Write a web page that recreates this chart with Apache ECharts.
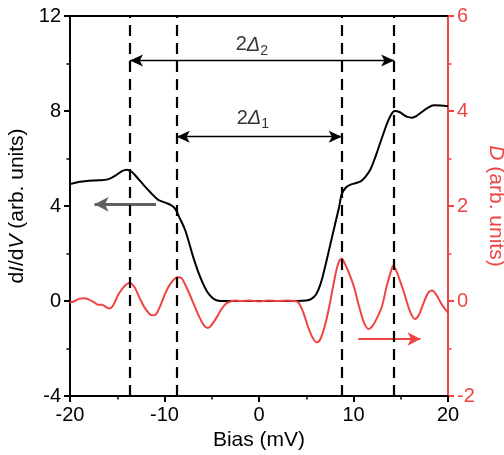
<!DOCTYPE html>
<html>
<head>
<meta charset="utf-8">
<script src="https://cdn.jsdelivr.net/npm/echarts@6/dist/echarts.min.js"></script>
<style>
  html, body { margin: 0; padding: 0; background: #fff; overflow: hidden; }
  #chart { width: 504px; height: 455px; display: block; }
</style>
</head>
<body>
<div id="chart"></div>
<script>
// Tunneling conductance dI/dV (left axis) and its derivative-like D (right axis) vs bias
const biasCond = [-20, -19, -18, -17, -16, -15.2, -14.5, -14.0, -13.5, -12.9, -12.2, -11.5, -10.7, -10.0, -9.4, -8.9, -8.4, -7.8, -7.0, -6.5, -6.0, -5.5, -5.0, -4.5, -4.0, -2, 0, 2, 4, 5.0, 5.5, 6.0, 6.5, 7.0, 7.5, 8.0, 8.5, 8.75, 9.2, 9.7, 10.3, 10.8, 11.3, 11.8, 12.3, 12.8, 13.3, 13.7, 14.1, 14.4, 14.8, 15.2, 15.7, 16.2, 16.7, 17.2, 17.8, 18.5, 19.2, 20];
const condValues = [4.92, 5.02, 5.06, 5.08, 5.12, 5.28, 5.47, 5.53, 5.45, 5.2, 4.88, 4.58, 4.27, 4.15, 4.06, 3.9, 3.5, 2.97, 1.9, 1.3, 0.8, 0.4, 0.16, 0.03, 0.0, 0.0, 0.0, 0.0, 0.0, 0.02, 0.08, 0.25, 0.7, 1.45, 2.3, 3.15, 4.0, 4.5, 4.78, 4.9, 4.97, 5.05, 5.25, 5.55, 6.05, 6.63, 7.2, 7.62, 7.92, 8.0, 7.97, 7.87, 7.75, 7.72, 7.8, 7.95, 8.12, 8.24, 8.23, 8.2];

const biasD = [-20, -19.5, -19, -18.5, -18.0, -17.5, -17.0, -16.6, -16.2, -15.8, -15.4, -14.9, -14.3, -13.7, -13.2, -12.6, -12.0, -11.3, -10.9, -10.4, -9.9, -9.3, -8.6, -8.2, -7.7, -7.0, -6.4, -5.8, -5.4, -5.0, -4.5, -4.0, -3.5, -3.0, -2.5, -2, -1, 0, 1, 2, 3, 3.8, 4.2, 4.7, 5.2, 5.7, 6.1, 6.5, 7.0, 7.5, 8.0, 8.4, 8.75, 9.1, 9.6, 10.0, 10.6, 11.1, 11.6, 12.0, 12.5, 13.0, 13.5, 14.0, 14.2, 14.5, 15.0, 15.5, 16.0, 16.5, 16.9, 17.4, 17.9, 18.3, 18.8, 19.3, 20];
const dValues = [-0.03, 0.0, 0.05, 0.06, 0.03, -0.02, -0.08, -0.08, -0.13, -0.16, -0.08, 0.13, 0.3, 0.38, 0.3, 0.05, -0.17, -0.3, -0.28, -0.08, 0.17, 0.38, 0.5, 0.48, 0.3, -0.02, -0.3, -0.52, -0.57, -0.5, -0.35, -0.18, -0.06, -0.01, 0.01, 0.0, 0.01, -0.01, 0.01, 0.0, 0.01, 0.0, -0.04, -0.25, -0.55, -0.78, -0.87, -0.8, -0.5, -0.05, 0.47, 0.8, 0.89, 0.78, 0.55, 0.33, -0.12, -0.45, -0.59, -0.53, -0.35, -0.12, 0.3, 0.65, 0.74, 0.65, 0.38, 0.08, -0.23, -0.38, -0.3, -0.05, 0.17, 0.22, 0.12, -0.06, -0.25];

// Gap edges (mV) marked by dashed lines
const gapEdges = [-13.65, -8.7, 8.75, 14.3];
// Double arrows spanning 2Δ2 and 2Δ1: [from, to, level on dI/dV axis]
const gapSpans = [[-13.65, 14.3, 10.13], [-8.7, 8.75, 6.92]];
// Span labels: [bias, dI/dV level, subscript]
const gapLabels = [[-0.75, 10.78, '2'], [-0.65, 7.7, '1']];
// Axis-pointer arrows: [from, to, level]
const condArrow = [-10.9, -17.4, 4.07];
const dArrow = [10.5, 17.1, -0.8];

const xTicks = { min: -20, max: 20, interval: 10 };
const leftTicks = { min: -4, max: 12, interval: 4 };
const rightTicks = { min: -2, max: 6, interval: 2 };

const RED = '#f04444';
const FONT = '"Liberation Sans", Arial, sans-serif';

const zip = (xs, ys) => xs.map((x, i) => [x, ys[i]]);

const chart = echarts.init(document.getElementById('chart'), null, { renderer: 'canvas', width: 504, height: 455 });

const axisBase = (color) => ({
  axisLine: { show: true, onZero: false, lineStyle: { color: color, width: 2 } },
  axisTick: { show: true, inside: false, length: 6, lineStyle: { color: color, width: 2 } },
  minorTick: { show: true, splitNumber: 2, length: 3.5, lineStyle: { color: color, width: 1.5 } },
  splitLine: { show: false },
  axisLabel: { color: color, fontSize: 20, fontFamily: FONT, margin: 9 }
});

chart.setOption({
  animation: false,
  backgroundColor: '#fff',
  grid: { left: 70, right: 56, top: 16, bottom: 59, containLabel: false, outerBoundsMode: 'none' },
  xAxis: [
    Object.assign({
      type: 'value', position: 'bottom',
      min: xTicks.min, max: xTicks.max, interval: xTicks.interval,
      name: 'Bias (mV)', nameLocation: 'middle', nameGap: 32,
      nameTextStyle: { color: '#000', fontSize: 21, fontFamily: FONT }
    }, axisBase('#000')),
    {
      type: 'value', position: 'top',
      min: xTicks.min, max: xTicks.max,
      axisLine: { show: true, onZero: false, lineStyle: { color: '#000', width: 2 } },
      axisTick: { show: false }, axisLabel: { show: false }, splitLine: { show: false }
    }
  ],
  yAxis: [
    Object.assign({
      type: 'value', position: 'left',
      min: leftTicks.min, max: leftTicks.max, interval: leftTicks.interval,
      name: '{n|d}{i|I}{n|/d}{i|V}{n| (arb. units)}',
      nameLocation: 'middle', nameGap: 35, nameRotate: 90,
      nameTextStyle: {
        color: '#000', fontSize: 21, fontFamily: FONT,
        rich: {
          n: { fontSize: 21, fontFamily: FONT, color: '#000' },
          i: { fontSize: 21, fontFamily: FONT, color: '#000', fontStyle: 'italic' }
        }
      }
    }, axisBase('#000')),
    Object.assign({
      type: 'value', position: 'right',
      min: rightTicks.min, max: rightTicks.max, interval: rightTicks.interval,
      name: '{i|D}{n| (arb. units)}',
      nameLocation: 'middle', nameGap: 28, nameRotate: -90,
      nameTextStyle: {
        color: RED, fontSize: 21, fontFamily: FONT,
        rich: {
          n: { fontSize: 21, fontFamily: FONT, color: RED },
          i: { fontSize: 21, fontFamily: FONT, color: RED, fontStyle: 'italic' }
        }
      }
    }, axisBase(RED))
  ],
  series: [
    {
      name: 'dI/dV', type: 'line', xAxisIndex: 0, yAxisIndex: 0,
      data: zip(biasCond, condValues),
      smooth: 0.35, showSymbol: false, symbol: 'none',
      lineStyle: { color: '#000', width: 2 },
      z: 3,
      markLine: {
        silent: true, symbol: ['none', 'arrow'], symbolSize: [11, 14],
        label: { show: false },
        lineStyle: { color: '#606060', width: 3, type: 'solid' },
        data: [[
          { coord: [condArrow[0], condArrow[2]] },
          { coord: [condArrow[1], condArrow[2]] }
        ]]
      }
    },
    {
      name: 'D', type: 'line', xAxisIndex: 0, yAxisIndex: 1,
      data: zip(biasD, dValues),
      smooth: 0.35, showSymbol: false, symbol: 'none',
      lineStyle: { color: RED, width: 2 },
      z: 3,
      markLine: {
        silent: true, symbol: ['none', 'arrow'], symbolSize: [10, 13],
        label: { show: false },
        lineStyle: { color: RED, width: 2, type: 'solid' },
        data: [[
          { coord: [dArrow[0], dArrow[2]] },
          { coord: [dArrow[1], dArrow[2]] }
        ]]
      }
    },
    {
      name: 'gap', type: 'line', xAxisIndex: 0, yAxisIndex: 0,
      data: [], z: 2,
      markLine: {
        silent: true, symbol: 'none',
        label: { show: false },
        lineStyle: { color: '#000', width: 2.2, type: [11, 7] },
        data: gapEdges.map(v => ({ xAxis: v }))
      }
    },
    {
      name: 'spans', type: 'line', xAxisIndex: 0, yAxisIndex: 0,
      data: [], z: 4,
      markLine: {
        silent: true, symbol: ['arrow', 'arrow'], symbolSize: [9, 13],
        label: { show: false },
        lineStyle: { color: '#000', width: 1.3, type: 'solid' },
        data: gapSpans.map(s => [{ coord: [s[0], s[2]] }, { coord: [s[1], s[2]] }])
      }
    },
    {
      name: 'labels', type: 'scatter', xAxisIndex: 0, yAxisIndex: 0,
      symbol: 'circle', symbolSize: 1,
      itemStyle: { color: 'rgba(0,0,0,0)' },
      silent: true, z: 5,
      data: gapLabels.map(l => ({ value: [l[0], l[1]], sub: l[2] })),
      label: {
        show: true, position: 'inside', color: '#000',
        formatter: p => '{n|2}{i|Δ}{s|' + p.data.sub + '}',
        rich: {
          n: { fontSize: 20, fontFamily: FONT, color: '#000', lineHeight: 26, verticalAlign: 'middle' },
          i: { fontSize: 20, fontFamily: FONT, color: '#000', fontStyle: 'italic', lineHeight: 26, verticalAlign: 'middle' },
          s: { fontSize: 14, fontFamily: FONT, color: '#000', lineHeight: 14, verticalAlign: 'bottom' }
        }
      }
    }
  ]
});
</script>
</body>
</html>
